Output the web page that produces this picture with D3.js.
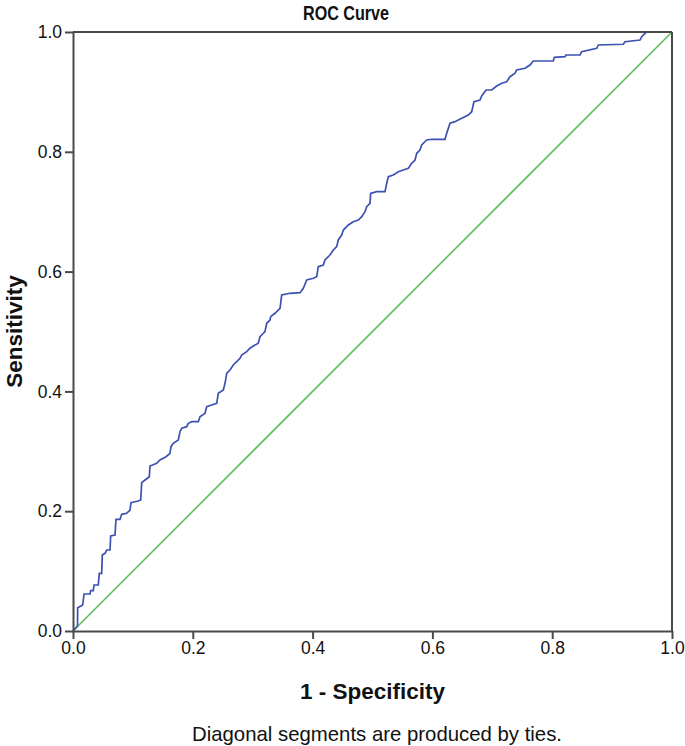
<!DOCTYPE html>
<html>
<head>
<meta charset="utf-8">
<script src="https://cdn.jsdelivr.net/npm/d3@7"></script>
<style>
  html, body { margin: 0; padding: 0; background: #fff; }
  svg { display: block; }
  text { font-family: Arial, "Liberation Sans", sans-serif; fill: #111; }
</style>
</head>
<body>
<svg id="chart" width="685" height="746"></svg>
<script>
// ---- Data ----
const title = "ROC Curve";
const xLabel = "1 - Specificity";
const yLabel = "Sensitivity";
const footnote = "Diagonal segments are produced by ties.";
const tickValues = [0.0, 0.2, 0.4, 0.6, 0.8, 1.0];

// ROC curve vertices: 1 - specificity (false positive rate)
const fpr = [
  0.000, 0.0075, 0.0078, 0.0162, 0.0184, 0.0284, 0.0295, 0.0339, 0.0351, 0.0422,
  0.0439, 0.0479, 0.0489, 0.0534, 0.0563, 0.0618, 0.0629, 0.0701, 0.0718, 0.0785,
  0.0813, 0.0896, 0.0952, 0.0968, 0.1090, 0.1130, 0.1147, 0.1202, 0.1274, 0.1285,
  0.1397, 0.1452, 0.1553, 0.1619, 0.1636, 0.1674, 0.1758, 0.1786, 0.1815, 0.1898,
  0.1925, 0.1982, 0.2092, 0.2120, 0.2204, 0.2232, 0.2316, 0.2399, 0.2426, 0.2509,
  0.2538, 0.2566, 0.2621, 0.2676, 0.2733, 0.2788, 0.2816, 0.2900, 0.2955, 0.3010,
  0.3093, 0.3122, 0.3150, 0.3205, 0.3234, 0.3289, 0.3300, 0.3372, 0.3456, 0.3484,
  0.3623, 0.3790, 0.3845, 0.3902, 0.4012, 0.4068, 0.4095, 0.4179, 0.4207, 0.4290,
  0.4346, 0.4402, 0.4429, 0.4486, 0.4513, 0.4596, 0.4679, 0.4763, 0.4820, 0.4875,
  0.4903, 0.4958, 0.4970, 0.5070, 0.5209, 0.5237, 0.5264, 0.5347, 0.5431, 0.5514,
  0.5598, 0.5654, 0.5710, 0.5738, 0.5793, 0.5821, 0.5905, 0.5988, 0.6210, 0.6239,
  0.6294, 0.6377, 0.6489, 0.6599, 0.6656, 0.6694, 0.6795, 0.6823, 0.6895, 0.6990,
  0.7073, 0.7157, 0.7240, 0.7295, 0.7379, 0.7407, 0.7546, 0.7629, 0.7684, 0.8018,
  0.8035, 0.8214, 0.8230, 0.8464, 0.8492, 0.8743, 0.8770, 0.9187, 0.9215, 0.9466,
  0.9494, 0.9549, 0.9578, 1.000
];
// ROC curve vertices: sensitivity (true positive rate)
const tpr = [
  0.000, 0.0083, 0.0389, 0.0434, 0.0618, 0.0618, 0.0673, 0.0673, 0.0768, 0.0768,
  0.0963, 0.0963, 0.1269, 0.1297, 0.1352, 0.1352, 0.1586, 0.1603, 0.1865, 0.1865,
  0.1948, 0.1965, 0.2020, 0.2142, 0.2170, 0.2187, 0.2476, 0.2521, 0.2576, 0.2755,
  0.2800, 0.2855, 0.2910, 0.2967, 0.3077, 0.3134, 0.3189, 0.3327, 0.3384, 0.3411,
  0.3467, 0.3494, 0.3494, 0.3578, 0.3634, 0.3745, 0.3773, 0.3801, 0.3968, 0.4023,
  0.4135, 0.4302, 0.4357, 0.4441, 0.4496, 0.4553, 0.4608, 0.4663, 0.4720, 0.4758,
  0.4803, 0.4913, 0.4942, 0.4997, 0.5137, 0.5192, 0.5247, 0.5304, 0.5387, 0.5609,
  0.5638, 0.5648, 0.5721, 0.5860, 0.5888, 0.5915, 0.6082, 0.6110, 0.6194, 0.6277,
  0.6361, 0.6416, 0.6528, 0.6611, 0.6694, 0.6778, 0.6833, 0.6861, 0.6917, 0.7000,
  0.7084, 0.7140, 0.7307, 0.7334, 0.7334, 0.7474, 0.7584, 0.7613, 0.7668, 0.7696,
  0.7725, 0.7808, 0.7863, 0.7975, 0.8030, 0.8114, 0.8197, 0.8209, 0.8209, 0.8309,
  0.8476, 0.8503, 0.8559, 0.8614, 0.8669, 0.8836, 0.8865, 0.8932, 0.9032, 0.9032,
  0.9098, 0.9144, 0.9170, 0.9254, 0.9311, 0.9366, 0.9394, 0.9449, 0.9516, 0.9516,
  0.9578, 0.9588, 0.9616, 0.9616, 0.9671, 0.9728, 0.9783, 0.9795, 0.9838, 0.9866,
  0.9922, 0.9978, 1.000, 1.000
];
// Reference line
const refX = [0, 1];
const refY = [0, 1];

// ---- Layout ----
const plot = { left: 73, right: 672, top: 32, bottom: 631 };
const svg = d3.select("#chart");

const x = d3.scaleLinear().domain([0, 1]).range([plot.left, plot.right]);
const y = d3.scaleLinear().domain([0, 1]).range([plot.bottom, plot.top]);

const axisColor = "#4a4a4a";

// Reference diagonal
const line = d3.line().x(d => x(d[0])).y(d => y(d[1]));
svg.append("path")
  .datum(d3.zip(refX, refY))
  .attr("d", line)
  .attr("fill", "none")
  .attr("stroke", "#5cc05c")
  .attr("stroke-width", 1.6);

// ROC curve
svg.append("path")
  .datum(d3.zip(fpr, tpr))
  .attr("d", line)
  .attr("fill", "none")
  .attr("stroke", "#3c52b2")
  .attr("stroke-width", 1.7)
  .attr("stroke-linejoin", "miter");

// Frame (top and right)
svg.append("line")
  .attr("x1", x(0)).attr("x2", x(1)).attr("y1", y(1)).attr("y2", y(1))
  .attr("stroke", axisColor).attr("stroke-width", 2);
svg.append("line")
  .attr("x1", x(1)).attr("x2", x(1)).attr("y1", y(0)).attr("y2", y(1))
  .attr("stroke", axisColor).attr("stroke-width", 2);

// Axes
const fmt = d3.format(".1f");
const gx = svg.append("g")
  .attr("transform", `translate(0,${plot.bottom})`)
  .call(d3.axisBottom(x).tickValues(tickValues).tickFormat(fmt).tickSize(8).tickSizeOuter(0).tickPadding(3));
const gy = svg.append("g")
  .attr("transform", `translate(${plot.left},0)`)
  .call(d3.axisLeft(y).tickValues(tickValues).tickFormat(fmt).tickSize(8).tickSizeOuter(0).tickPadding(3));

[gx, gy].forEach(g => {
  g.select(".domain").attr("stroke", axisColor).attr("stroke-width", 2);
  g.selectAll(".tick line").attr("stroke", axisColor).attr("stroke-width", 2);
  g.selectAll(".tick text")
    .attr("font-family", "Arial, 'Liberation Sans', sans-serif")
    .attr("font-size", 17.5)
    .attr("fill", "#222");
});

// Title
svg.append("text")
  .attr("x", 346).attr("y", 20)
  .attr("text-anchor", "middle")
  .attr("font-size", 20)
  .attr("font-weight", "bold")
  .attr("textLength", 86)
  .attr("lengthAdjust", "spacingAndGlyphs")
  .text(title);

// X axis title
svg.append("text")
  .attr("x", 372.5).attr("y", 699)
  .attr("text-anchor", "middle")
  .attr("font-size", 22.5)
  .attr("font-weight", "bold")
  .text(xLabel);

// Y axis title
svg.append("text")
  .attr("transform", `translate(22,${(plot.top + plot.bottom) / 2}) rotate(-90)`)
  .attr("text-anchor", "middle")
  .attr("font-size", 22.5)
  .attr("font-weight", "bold")
  .text(yLabel);

// Footnote
svg.append("text")
  .attr("x", 377).attr("y", 741)
  .attr("text-anchor", "middle")
  .attr("font-size", 21)
  .attr("textLength", 370)
  .attr("lengthAdjust", "spacingAndGlyphs")
  .text(footnote);
</script>
</body>
</html>
